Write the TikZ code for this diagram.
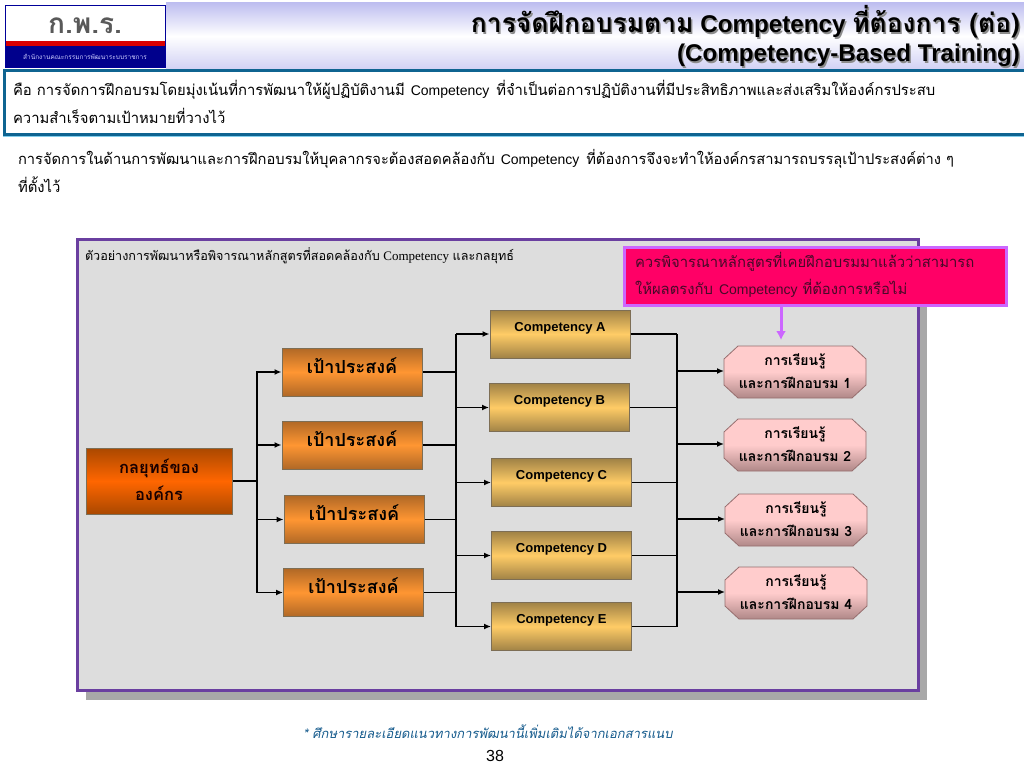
\documentclass[tikz,border=0pt]{standalone}
\usepackage{fontspec}
\setmainfont{Liberation Sans}
\newfontfamily\thaifont[Script=Thai]{Loma}
\newfontfamily\thaislant[Script=Thai,FakeSlant=0.2]{Loma}
\newfontfamily\latinserif{Liberation Serif}
\usetikzlibrary{arrows.meta}
\newcommand{\FS}[1]{\fontsize{#1}{#1}\selectfont}
\newcommand{\T}[2]{{\thaifont\FS{#1}#2}}
\newcommand{\BL}[2]{\raisebox{#1pt}[0pt][0pt]{#2}}
\newcommand{\octa}[2]{%
  \path[learnshape] (#1-71,#2-13) -- (#1-57,#2-26) -- (#1+57,#2-26) -- (#1+71,#2-13)
    -- (#1+71,#2+13) -- (#1+57,#2+26) -- (#1-57,#2+26) -- (#1-71,#2+13) -- cycle;}
\definecolor{hdr}{RGB}{190,190,240}
\definecolor{teal}{RGB}{15,100,145}
\definecolor{ltblue}{RGB}{130,205,235}
\definecolor{purp}{RGB}{106,63,160}
\definecolor{panelc}{RGB}{221,221,221}
\definecolor{shadowc}{RGB}{168,168,168}
\definecolor{hot}{RGB}{255,0,102}
\definecolor{hottext}{RGB}{70,10,40}
\definecolor{lilac}{RGB}{204,102,255}
\definecolor{edgec}{RGB}{125,110,85}
\definecolor{foot}{RGB}{20,90,140}
\definecolor{stratd}{RGB}{170,72,0}
\definecolor{stratm}{RGB}{255,102,0}
\definecolor{goald}{RGB}{176,104,38}
\definecolor{goalm}{RGB}{255,150,50}
\definecolor{compd}{RGB}{160,130,70}
\definecolor{compm}{RGB}{255,204,102}
\definecolor{lrnt}{RGB}{255,204,204}
\definecolor{lrnb}{RGB}{176,136,136}
\definecolor{lrne}{RGB}{150,110,110}
\tikzset{
  x=1pt,y=-1pt,
  tx/.style={inner sep=0pt,outer sep=0pt,anchor=base west},
  strat/.style={rectangle,draw=edgec,line width=1pt,inner sep=0pt,
    top color=stratd,bottom color=stratd,middle color=stratm,
    minimum width=146pt,minimum height=66pt,align=center,
    font=\thaifont\bfseries\fontsize{16.5}{27}\selectfont,text=black!90!red},
  goal/.style={rectangle,draw=edgec,line width=1pt,inner sep=0pt,
    top color=goald,bottom color=goald,middle color=goalm,
    minimum width=140pt,minimum height=48pt,font=\thaifont\bfseries\fontsize{18}{20}\selectfont},
  comp/.style={rectangle,draw=edgec,line width=1pt,inner sep=0pt,
    top color=compd,bottom color=compd,middle color=compm,
    minimum width=140pt,minimum height=48pt,font=\bfseries\fontsize{13}{15}\selectfont},
  learnshape/.style={draw=lrne,line width=.8pt,top color=lrnt,bottom color=lrnb,middle color=lrnt},
  learn/.style={rectangle,inner sep=0pt,outer sep=0pt,
    minimum width=142pt,minimum height=52pt,align=center,
    font=\thaifont\bfseries\fontsize{14}{23}\selectfont},
  conn/.style={draw=black,line width=1.5pt,-{Latex[length=7pt,width=6pt]}},
  line/.style={draw=black,line width=1.5pt},
}
\begin{document}
\begin{tikzpicture}
\useasboundingbox (0,0) rectangle (1024,768);
\fill[white] (0,0) rectangle (1024,768);
% header
\shade[top color=hdr,bottom color=hdr!70,middle color=white] (166,3) rectangle (1024,69);
\fill[white] (5,5) rectangle (165,41);
\fill[red!85!black] (5,41) rectangle (165,46);
\fill[blue!55!black] (5,46) rectangle (165,67);
\draw[blue!60!black,line width=.6pt] (5,5) rectangle (165,67);
\node[tx,anchor=center,text=black!65] (logo) at (85,26) {\thaifont\bfseries\FS{28}ก.พ.ร.};
\node[tx,anchor=center,text=white!80!blue] (logosub) at (85,57) {\thaifont\FS{6.5}สำนักงานคณะกรรมการพัฒนาระบบราชการ};
% title
\node[tx,anchor=base east,text=black!45] (t1s) at (1021.5,34.5) {\bfseries\FS{24.2}\T{26.4}{การจัดฝึกอบรมตาม} Competency \T{26.4}{ที่ต้องการ (ต่อ)}};
\node[tx,anchor=base east,text=black!45] (t2s) at (1021.5,63.5) {\bfseries\FS{24.2}(Competency-Based Training)};
\node[tx,anchor=base east] (t1) at (1020,33) {\bfseries\FS{24.2}\T{26.4}{การจัดฝึกอบรมตาม} Competency \T{26.4}{ที่ต้องการ (ต่อ)}};
\node[tx,anchor=base east] (t2) at (1020,62) {\bfseries\FS{24.2}(Competency-Based Training)};
% definition box
\draw[ltblue,line width=1pt] (3,136) -- (1024,136);
\draw[teal,line width=3pt] (1024,70) -- (4,70) -- (4,134) -- (1024,134);
\node[tx] (d1) at (13,95) {\FS{14}\T{14.85}{คือ การจัดการฝึกอบรมโดยมุ่งเน้นที่การพัฒนาให้ผู้ปฏิบัติงานมี}\hspace{2pt} Competency \hspace{3pt}\T{14.85}{ที่จำเป็นต่อการปฏิบัติงานที่มีประสิทธิภาพและส่งเสริมให้องค์กรประสบ}};
\node[tx] (d2) at (13,123) {\T{14.85}{ความสำเร็จตามเป้าหมายที่วางไว้}};
\node[tx] (p1) at (18,164) {\FS{14}\T{14.7}{การจัดการในด้านการพัฒนาและการฝึกอบรมให้บุคลากรจะต้องสอดคล้องกับ}\hspace{2pt} Competency \hspace{3pt}\T{14.7}{ที่ต้องการจึงจะทำให้องค์กรสามารถบรรลุเป้าประสงค์ต่าง ๆ}};
\node[tx] (p2) at (18,192) {\T{14.85}{ที่ตั้งไว้}};
% panel
\fill[shadowc] (86,246) rectangle (927,700);
\draw[purp,line width=3pt,fill=panelc] (77,239) rectangle (918,690);
\node[tx] (ptitle) at (85,260) {\FS{13}\T{12.6}{ตัวอย่างการพัฒนาหรือพิจารณาหลักสูตรที่สอดคล้องกับ} {\latinserif Competency} \T{12.6}{และกลยุทธ์}};
% callout
\node[draw=lilac,line width=3pt,fill=hot,minimum width=382pt,minimum height=58pt,inner sep=0pt] (call) at (815.5,276.5) {};
\node[tx,text=hottext] (c1) at (635,267) {\T{14.85}{ควรพิจารณาหลักสูตรที่เคยฝึกอบรมมาแล้วว่าสามารถ}};
\node[tx,text=hottext] (c2) at (635,294) {\FS{14}\T{14.85}{ให้ผลตรงกับ}\hspace{2pt} Competency \hspace{1pt}\T{14.85}{ที่ต้องการหรือไม่}};
% boxes
\node[strat] (s) at (159,481) {\raisebox{2pt}{กลยุทธ์ของ}\\\raisebox{2pt}{องค์กร}};
\node[goal] (g1) at (352,372) {\BL{-1}{เป้าประสงค์}};
\node[goal] (g2) at (352,445) {\BL{-1}{เป้าประสงค์}};
\node[goal] (g3) at (354,519.5) {\BL{-1}{เป้าประสงค์}};
\node[goal] (g4) at (353.5,592.5) {\BL{-1}{เป้าประสงค์}};
\node[comp] (ca) at (560,334) {\BL{3}{Competency A}};
\node[comp] (cb) at (559.5,407.5) {\BL{3}{Competency B}};
\node[comp] (cc) at (561.5,482.5) {\BL{3}{Competency C}};
\node[comp] (cd) at (561.5,555.5) {\BL{3}{Competency D}};
\node[comp] (ce) at (561.5,626.5) {\BL{3}{Competency E}};
\octa{795}{372}\octa{795}{445}\octa{796}{520}\octa{796}{593}
\node[learn] (l1) at (795,371) {การเรียนรู้\\และการฝึกอบรม 1};
\node[learn] (l2) at (795,444) {การเรียนรู้\\และการฝึกอบรม 2};
\node[learn] (l3) at (796,519) {การเรียนรู้\\และการฝึกอบรม 3};
\node[learn] (l4) at (796,592) {การเรียนรู้\\และการฝึกอบรม 4};
% buses
\coordinate (b1) at (257,0);
\coordinate (b2) at (456,0);
\coordinate (b3) at (677,0);
\draw[line,line width=2.2pt] (s.east) -- (s.east -| b1);
\foreach \g in {g1,g2,g3,g4}{
  \draw[conn] (s.east -| b1) |- (\g.west);
  \draw[line] (\g.east) -- (\g.east -| b2);
}
\draw[line,line width=1.8pt] (ca.west -| b2) -- (ce.west -| b2);
\foreach \c in {ca,cb,cc,cd,ce}{
  \draw[conn] (\c.west -| b2) -- (\c.west);
  \draw[line] (\c.east) -- (\c.east -| b3);
}
\draw[line,line width=1.8pt] (ca.east -| b3) -- (ce.east -| b3);
\foreach \l in {l1,l2,l3,l4}{
  \draw[conn] (\l.west -| b3) -- (\l.west);
}
\coordinate (tip) at (781,340);
\draw[lilac,line width=3pt,-{Latex[length=9pt,width=10pt]}] (call.south -| tip) -- (tip);
% footer
\node[tx,text=foot] (fn) at (303,738) {\FS{13}\thaislant * ศึกษารายละเอียดแนวทางการพัฒนานี้เพิ่มเติมได้จากเอกสารแนบ};
\node[tx,anchor=center] (pg) at (495,756) {\FS{16}38};
\end{tikzpicture}
\end{document}
